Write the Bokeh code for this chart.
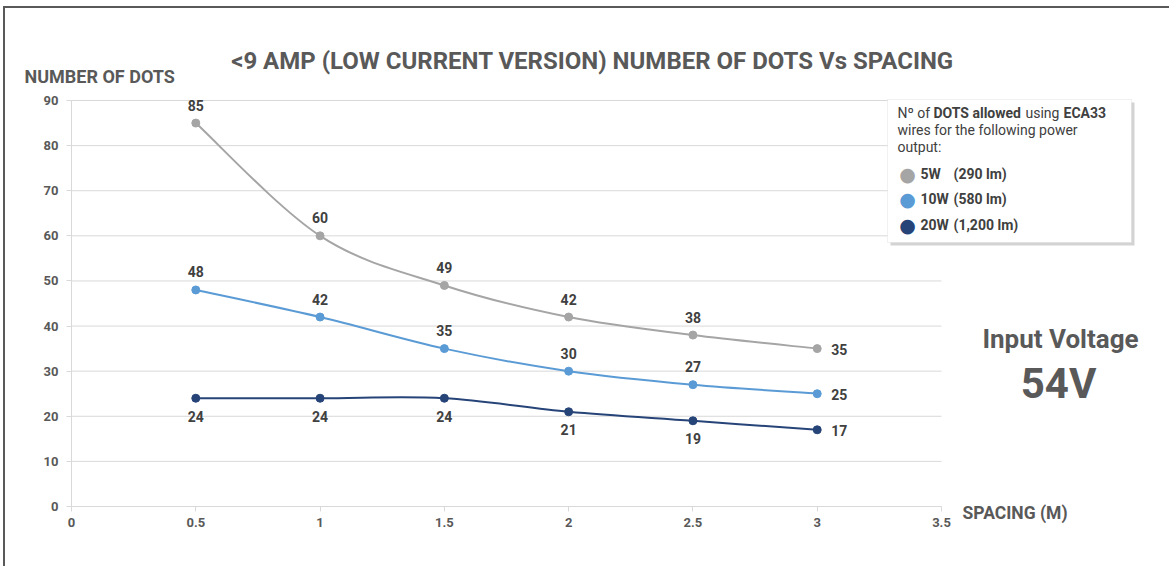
from bokeh.plotting import figure
from bokeh.models import Label, BoxAnnotation, Range1d, FixedTicker
from bokeh.core.properties import value
from bokeh.embed import file_html
from bokeh.resources import INLINE

# ---------------- data ----------------
spacing = [0.5, 1, 1.5, 2, 2.5, 3]
dots_5w = [85, 60, 49, 42, 38, 35]
dots_10w = [48, 42, 35, 30, 27, 25]
dots_20w = [24, 24, 24, 21, 19, 17]
series_names = ["5W", "10W", "20W"]
series_lumen = ["(290 lm)", "(580 lm)", "(1,200 lm)"]
y_ticks = [0, 10, 20, 30, 40, 50, 60, 70, 80, 90]
x_ticks = [0, 0.5, 1, 1.5, 2, 2.5, 3, 3.5]
x_tick_labels = ["0", "0.5", "1", "1.5", "2", "2.5", "3", "3.5"]

FONT = "Roboto"
DARK = "#595959"
TXT = "#404040"
GRID = "#d9d9d9"
C5, C10, C20 = "#a5a5a5", "#5b9bd5", "#264478"

X0, X1, Y0, Y1 = 0, 3.5, 0, 90
# pixel layout of the chart area (page pixels)
PX_L, PX_R, PX_T, PX_B = 71, 941, 100, 506
OX, OY = 5, 8          # canvas origin on the page
W, H = 1166, 560


def ax_x(px):
    return X0 + (px - PX_L) / (PX_R - PX_L) * (X1 - X0)


def ax_y(py):
    return Y0 + (PX_B - py) / (PX_B - PX_T) * (Y1 - Y0)


p = figure(width=W, height=H, output_backend="svg", toolbar_location=None,
           x_range=Range1d(ax_x(OX), ax_x(OX + W)), y_range=Range1d(ax_y(OY + H), ax_y(OY)),
           min_border=0, min_border_left=0, min_border_right=0,
           min_border_top=0, min_border_bottom=0)
p.title.visible = False
p.styles = {"border-top": "2px solid #595959", "border-left": "2px solid #595959",
            "margin-left": "3px", "margin-top": "6px"}
p.outline_line_color = None
p.background_fill_color = "white"
p.border_fill_color = "white"
p.xgrid.visible = False
p.ygrid.visible = False

p.xaxis[0].fixed_location = Y0
p.yaxis[0].fixed_location = X0
p.xaxis[0].bounds = (X0, X1)
p.yaxis[0].bounds = (Y0, Y1)
for ax in (p.xaxis[0], p.yaxis[0]):
    ax.axis_line_color = GRID
    ax.major_tick_line_color = GRID
    ax.minor_tick_line_color = None
    ax.major_tick_in = 0
    ax.major_tick_out = 5
    ax.major_label_text_font = FONT
    ax.major_label_text_font_style = "bold"
    ax.major_label_text_font_size = "13px"
    ax.major_label_text_color = DARK
p.yaxis[0].ticker = FixedTicker(ticks=y_ticks)
p.yaxis[0].major_label_standoff = 8
p.xaxis[0].ticker = FixedTicker(ticks=x_ticks)
p.xaxis[0].major_label_overrides = {t: l for t, l in zip(x_ticks, x_tick_labels)}
p.xaxis[0].major_label_standoff = 6

# horizontal gridlines at the y ticks, across the chart area only
p.segment(x0=[X0] * len(y_ticks[1:]), x1=[X1] * len(y_ticks[1:]), y0=y_ticks[1:], y1=y_ticks[1:],
          line_color=GRID, line_width=1)


def smooth_segments(xs, ys):
    n = len(xs)
    seg = {k: [] for k in ("x0", "y0", "x1", "y1", "cx0", "cy0", "cx1", "cy1")}
    for i in range(n - 1):
        a = max(i - 1, 0)
        b = min(i + 2, n - 1)
        seg["x0"].append(xs[i]); seg["y0"].append(ys[i])
        seg["x1"].append(xs[i + 1]); seg["y1"].append(ys[i + 1])
        seg["cx0"].append(xs[i] + (xs[i + 1] - xs[a]) / 6)
        seg["cy0"].append(ys[i] + (ys[i + 1] - ys[a]) / 6)
        seg["cx1"].append(xs[i + 1] - (xs[b] - xs[i]) / 6)
        seg["cy1"].append(ys[i + 1] - (ys[b] - ys[i]) / 6)
    return seg


for ys, col, pos in ((dots_5w, C5, "above"), (dots_10w, C10, "above"), (dots_20w, C20, "below")):
    p.bezier(line_color=col, line_width=2, **smooth_segments(spacing, ys))
    p.scatter(spacing, ys, size=8, fill_color=col, line_color=col)
    yoff = -18 if pos == "above" else 18
    p.text(spacing[:-1], ys[:-1], text=[str(v) for v in ys[:-1]], x_offset=0, y_offset=yoff,
           text_align="center", text_baseline="middle", text_font=value(FONT),
           text_font_style="bold", text_font_size="14px", text_color=TXT)
    p.text(spacing[-1:], ys[-1:], text=[str(ys[-1])], x_offset=14, y_offset=1,
           text_align="left", text_baseline="middle", text_font=value(FONT),
           text_font_style="bold", text_font_size="14px", text_color=TXT)


def lab(txt, px, py, size, align="left", bold=True, color=DARK, font=FONT):
    p.add_layout(Label(x=ax_x(px), y=ax_y(py), text=txt, text_align=align,
                       text_baseline="middle", text_font=font,
                       text_font_style="bold" if bold else "normal",
                       text_font_size=size, text_color=color))


lab("<9 AMP (LOW CURRENT VERSION) NUMBER OF DOTS Vs SPACING", 592, 60, "24px", "center")
lab("NUMBER OF DOTS", 24, 76, "18px")
lab("SPACING (M)", 962, 512, "17.5px")
lab("Input Voltage", 1060, 338, "26px", "center")
lab("54V", 1058, 383, "42px", "center")

# legend box (shadow + box)
p.add_layout(BoxAnnotation(left=ax_x(890), right=ax_x(1134), top=ax_y(102), bottom=ax_y(245),
                           fill_color="#c8c8c8", fill_alpha=0.8, line_color=None))
p.add_layout(BoxAnnotation(left=ax_x(887), right=ax_x(1131), top=ax_y(99), bottom=ax_y(242),
                           fill_color="white", fill_alpha=1, line_color="#d0d0d0", line_width=1))
lab("Nº of", 897, 112, "14px", bold=False, color=TXT)
lab("DOTS allowed", 933, 112, "14px", color=TXT)
lab("using", 1025, 112, "14px", bold=False, color=TXT)
lab("ECA33", 1063, 112, "14px", color=TXT)
lab("wires for the following power", 897, 129, "14px", bold=False, color=TXT)
lab("output:", 897, 146, "14px", bold=False, color=TXT)
for i, (nm, lm, col) in enumerate(zip(series_names, series_lumen, (C5, C10, C20))):
    yy = 173 + i * 25.5
    lab("●", 907, yy, "19px", "center", bold=False, color=col, font="DejaVu Sans")
    lab(nm, 920, yy, "14px", color=TXT)
    lab(lm, 953, yy, "14px", color=TXT)

open("out.html", "w").write(file_html(p, INLINE))
